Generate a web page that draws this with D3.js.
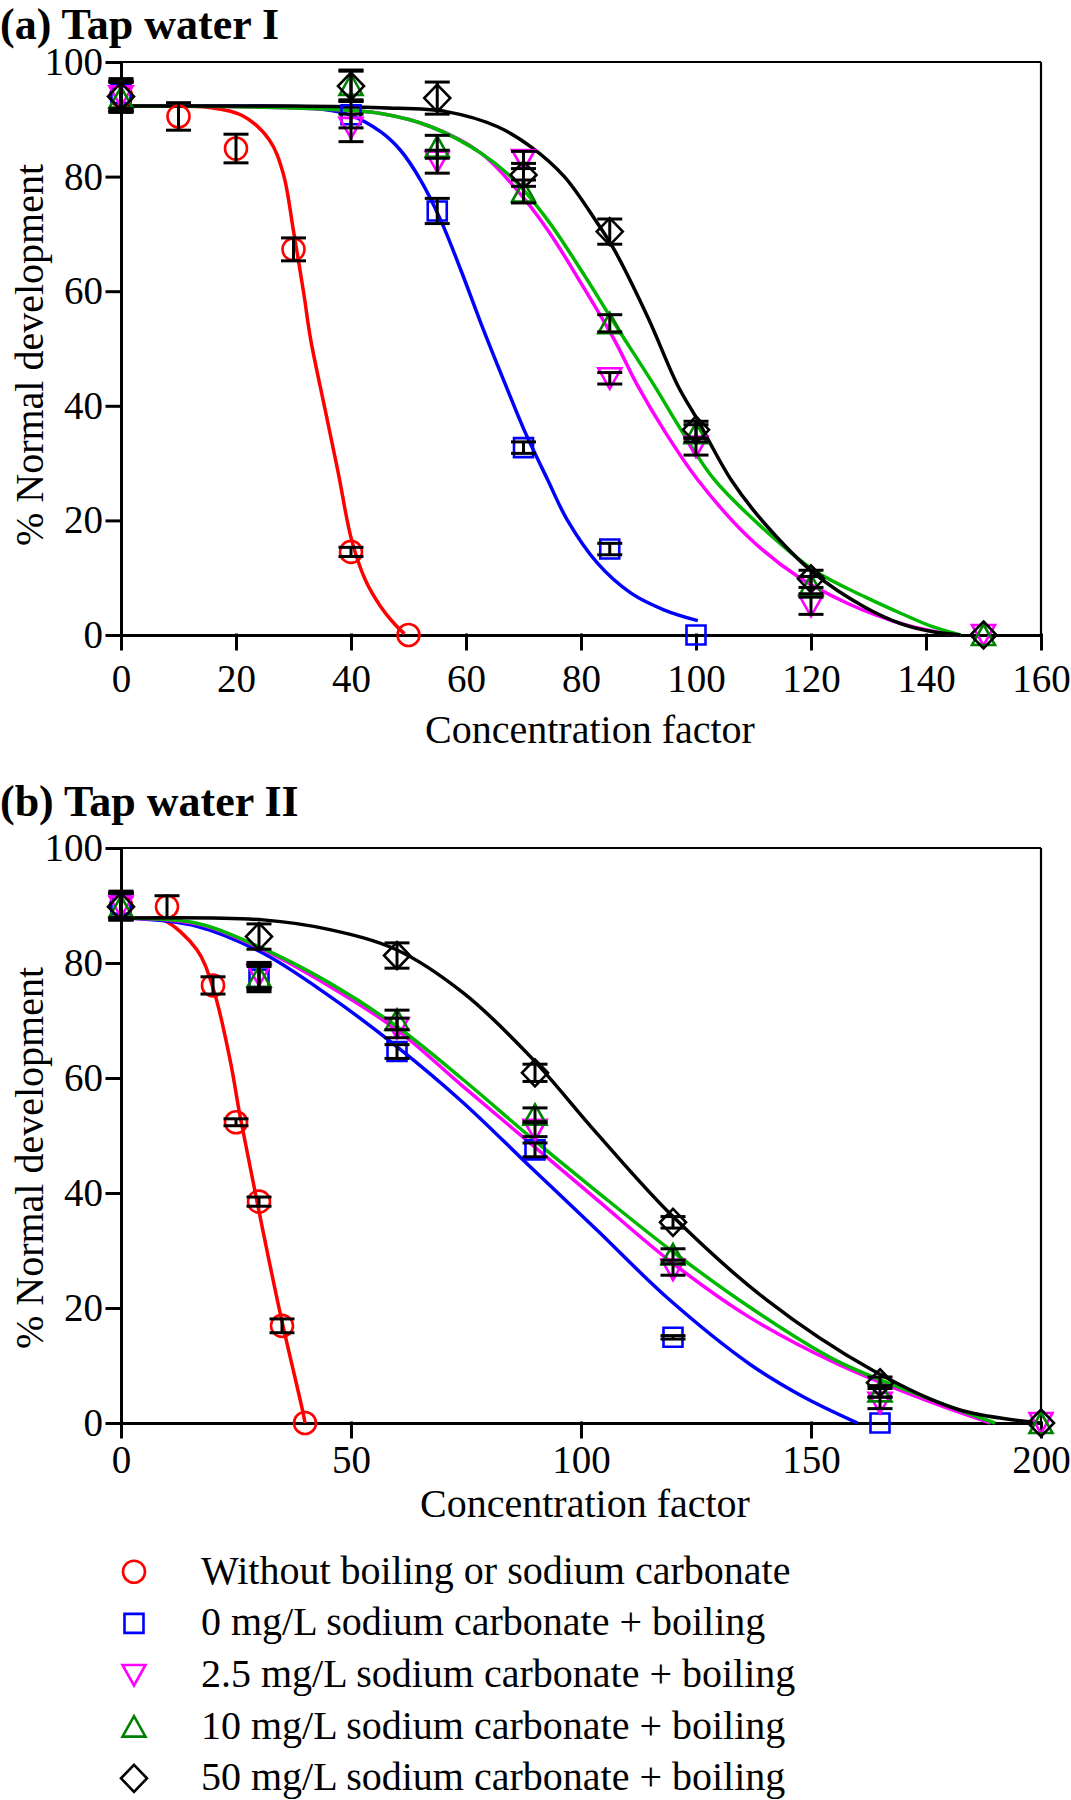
<!DOCTYPE html>
<html>
<head>
    <meta charset="utf-8" />
    <title>Normal development vs concentration factor</title>
    <script src="https://cdn.jsdelivr.net/npm/d3@7"></script>
    <style type="text/css">
        body { margin: 0; background: #fff; }
        svg { display: block; font-family: "Liberation Serif", "Times New Roman", serif; }
        .axis path, .axis line { stroke: #000; stroke-width: 3; stroke-linecap: square; }
        .axis text { font-size: 39px; fill: #000; font-family: "Liberation Serif", "Times New Roman", serif; }
        .frame { stroke: #000; stroke-width: 2.2; }
        .fit { fill: none; stroke-width: 3.5; }
        .err { stroke: #000; stroke-width: 3; }
        .mark { fill: none; stroke-width: 2.6; }
        .title { font-size: 44px; font-weight: bold; }
        .label { font-size: 40px; }
    </style>
</head>
<body>
<script>
    // ---- legend / series names
    const seriesLabels = [
        'Without boiling or sodium carbonate',
        '0 mg/L sodium carbonate + boiling',
        '2.5 mg/L sodium carbonate + boiling',
        '10 mg/L sodium carbonate + boiling',
        '50 mg/L sodium carbonate + boiling'
    ];
    const yTicks = [0, 20, 40, 60, 80, 100];

    // ---- (a) Tap water I : measured points
    const aXTicks = [0, 20, 40, 60, 80, 100, 120, 140, 160];
    const aNoBoilX = [0, 10, 20, 30, 40, 50];
    const aNoBoilY = [94.1, 90.5, 84.9, 67.3, 14.5, 0];
    const aNoBoilErr = [2.6, 2.4, 2.5, 2.0, 0.8, 0];
    const aNa0X = [0, 40, 55, 70, 85, 100];
    const aNa0Y = [94.5, 90.8, 74.0, 32.7, 15.0, 0];
    const aNa0Err = [2.6, 2.3, 2.2, 1.0, 1.0, 0];
    const aBoilX = [0, 40, 55, 70, 85, 100, 120, 150];
    const aNa25Y = [94.0, 88.5, 82.6, 82.9, 44.8, 32.9, 5.1, 0];
    const aNa25Err = [2.6, 2.4, 2.0, 1.5, 1.0, 1.5, 1.5, 0];
    const aNa10Y = [93.8, 96.0, 85.2, 77.4, 54.4, 35.2, 8.7, 0];
    const aNa10Err = [2.6, 2.6, 2.0, 2.0, 1.5, 1.5, 1.5, 0];
    const aNa50Y = [94.0, 95.8, 93.7, 80.3, 70.4, 35.8, 9.8, 0];
    const aNa50Err = [2.6, 2.6, 2.8, 2.0, 2.2, 1.5, 1.5, 0];

    // ---- (a) fitted curves
    const aFitNoBoilX = [0, 10, 15, 21, 25.8, 28.2, 30, 31.8, 33, 35.4, 37.8, 40.1, 42.5, 45.2, 47.5, 49.3];
    const aFitNoBoilY = [92.3, 92.3, 92.1, 90.7, 86.4, 80.6, 70.5, 59.5, 51.5, 39.8, 28.2, 16.6, 9.6, 4.9, 2.0, 0.2];
    const aFitNa0X = [0, 20, 30, 36, 40, 45.2, 48.6, 52.1, 55.6, 59.1, 62.6, 66.9, 70.1, 74.2, 77.6, 82.9, 88.7, 94.4, 100.3];
    const aFitNa0Y = [92.3, 92.3, 92.2, 91.6, 90.7, 87.8, 84.6, 79.4, 72.4, 63.7, 54.4, 43.6, 35.8, 27.1, 20.1, 12.5, 7.3, 4.4, 2.5];
    const aFitNa25X = [0, 20, 35, 45.2, 53.9, 62.6, 68.4, 74.2, 80, 85.8, 89.8, 94.4, 100.3, 109, 117.7, 126.4, 135.6, 141, 145.5];
    const aFitNa25Y = [92.3, 92.2, 91.8, 91.0, 88.7, 84.1, 78.2, 70.7, 61.4, 51.5, 43.6, 35.8, 27.1, 17.2, 10.2, 5.5, 2.0, 0.7, 0];
    const aFitNa10X = [0, 20, 35, 45.2, 53.9, 62.6, 68.4, 74.2, 80, 85.8, 92.7, 97.4, 103.2, 110.7, 120.5, 129.3, 135.6, 141, 146];
    const aFitNa10Y = [92.3, 92.2, 91.8, 91.0, 88.7, 84.1, 79.4, 72.4, 63.7, 54.4, 43.6, 35.8, 27.1, 19.5, 11.3, 6.7, 3.8, 1.5, 0];
    const aFitNa50X = [0, 30, 45.2, 56.8, 65.5, 71.3, 77.1, 82.9, 85.8, 91.6, 96.8, 100.3, 106.1, 111.9, 120.5, 129.3, 135.6, 141, 146];
    const aFitNa50Y = [92.3, 92.3, 92.0, 91.3, 88.7, 85.2, 80.0, 71.8, 67.2, 55.5, 43.6, 37.5, 27.1, 19.5, 10.8, 4.9, 2.0, 0.6, 0];

    // ---- (b) Tap water II : measured points
    const bXTicks = [0, 50, 100, 150, 200];
    const bNoBoilX = [0, 10, 20, 25, 30, 35, 40];
    const bNoBoilY = [90.0, 89.8, 76.1, 52.3, 38.5, 16.9, 0];
    const bNoBoilErr = [2.3, 1.9, 1.5, 0.6, 0.8, 1.2, 0];
    const bNa0X = [0, 30, 60, 90, 120, 165];
    const bNa0Y = [90.2, 77.2, 64.6, 47.5, 14.9, 0];
    const bNa0Err = [2.3, 2.2, 1.2, 1.2, 0.3, 0];
    const bBoilX = [0, 30, 60, 90, 120, 165, 200];
    const bNa25Y = [89.8, 77.9, 68.7, 51.0, 26.7, 3.5, 0];
    const bNa25Err = [2.3, 2.2, 1.7, 1.2, 1.0, 1.0, 0];
    const bNa10Y = [89.8, 77.6, 70.1, 53.6, 29.3, 5.5, 0];
    const bNa10Err = [2.3, 2.2, 1.7, 1.2, 1.0, 1.0, 0];
    const bNa50Y = [89.8, 84.6, 81.3, 60.9, 34.9, 7.0, 0];
    const bNa50Err = [2.3, 2.2, 2.2, 1.5, 1.0, 1.0, 0];

    // ---- (b) fitted curves
    const bFitNoBoilX = [0, 5, 9.2, 16.5, 20.1, 23.7, 25.9, 29.5, 34.6, 39.6, 40];
    const bFitNoBoilY = [87.8, 87.8, 87.5, 82.3, 75.4, 63.2, 53.3, 38.8, 19.1, 1.7, 0];
    const bFitNa0X = [0, 2, 16.5, 30.9, 45.4, 59.9, 74.4, 88.9, 103.4, 119, 136.4, 148, 160.1];
    const bFitNa0Y = [87.8, 87.8, 86.4, 81.7, 74.2, 65.5, 55.7, 44.6, 33.6, 21.6, 10.4, 4.7, 0];
    const bFitNa25X = [0, 2, 16.5, 30.9, 45.4, 59.9, 74.4, 88.9, 103.4, 119.6, 136.4, 155.4, 174.5, 189];
    const bFitNa25Y = [87.8, 87.8, 86.8, 82.3, 75.9, 68.4, 58.5, 48.7, 38.9, 28.0, 18.5, 10.4, 4.1, 0];
    const bFitNa10X = [0, 2, 16.5, 30.9, 45.4, 59.9, 74.4, 88.9, 103.4, 119.6, 136.4, 155.4, 174.5, 190];
    const bFitNa10Y = [87.8, 87.8, 86.9, 82.5, 76.5, 69.0, 59.7, 49.8, 40.3, 30.0, 20.3, 10.9, 4.6, 0];
    const bFitNa50X = [0, 30.9, 45.4, 59.9, 74.4, 88.9, 103.4, 119.6, 140.2, 163.1, 182.2, 200];
    const bFitNa50Y = [87.8, 87.5, 85.8, 82.3, 74.8, 63.8, 50.4, 36.2, 21.5, 9.3, 2.3, 0];

    // ---- styles
    const markColors = ['#ff0000', '#0000ff', '#ff00ff', '#008000', '#000000'];
    const lineColors = ['#ff0000', '#0000ff', '#ff00ff', '#00b800', '#000000'];
    const shapes = ['circle', 'square', 'down', 'up', 'diamond'];

    const W = 1071, H = 1800;
    const svg = d3.select('body').append('svg')
        .attr('width', W)
        .attr('height', H);

    function zip(xs, ys, es) {
        return xs.map(function (x, i) { return { x: x, y: ys[i], e: es ? es[i] : 0 }; });
    }

    function drawShape(g, shape, color, cx, cy) {
        if (shape === 'circle') {
            g.append('circle').attr('class', 'mark').attr('stroke', color)
                .attr('cx', cx).attr('cy', cy).attr('r', 11);
            return;
        }
        var d;
        if (shape === 'square') d = 'M-9.5,-9.5h19v19h-19Z';
        else if (shape === 'down') d = 'M-11.5,-10L11.5,-10L0,10.5Z';
        else if (shape === 'up') d = 'M0,-10.5L11.5,10L-11.5,10Z';
        else d = 'M0,-13.5L13,0L0,13.5L-13,0Z';
        g.append('path').attr('class', 'mark').attr('stroke', color)
            .attr('stroke-linejoin', 'miter')
            .attr('transform', `translate(${cx},${cy})`).attr('d', d);
    }

    function drawPanel(p) {
        var xScale = d3.scaleLinear().domain([0, p.xMax]).range([p.left, p.right]);
        var yScale = d3.scaleLinear().domain([0, 100]).range([p.bottom, p.top]);

        svg.append('text').attr('class', 'title')
            .attr('x', 0).attr('y', p.titleY).text(p.title);

        // frame: top + right
        svg.append('line').attr('class', 'frame')
            .attr('x1', p.left).attr('x2', p.right).attr('y1', p.top).attr('y2', p.top);
        svg.append('line').attr('class', 'frame')
            .attr('x1', p.right).attr('x2', p.right).attr('y1', p.top).attr('y2', p.bottom);

        svg.append('g').attr('class', 'axis')
            .attr('transform', `translate(0,${p.bottom})`)
            .call(d3.axisBottom(xScale).tickValues(p.xTicks).tickSize(14).tickSizeOuter(0))
            .call(function (g) { g.selectAll('text').attr('dy', null).attr('y', p.xLabelOff); });

        svg.append('g').attr('class', 'axis')
            .attr('transform', `translate(${p.left},0)`)
            .call(d3.axisLeft(yScale).tickValues(yTicks).tickSize(14).tickPadding(4).tickSizeOuter(0));

        svg.append('text').attr('class', 'label')
            .attr('x', p.xTitleX).attr('y', p.xTitleY)
            .attr('text-anchor', 'middle').text('Concentration factor');

        svg.append('text').attr('class', 'label')
            .attr('transform', `translate(43,${p.yTitleMid}) rotate(-90)`)
            .attr('text-anchor', 'middle').text('% Normal development');

        var line = d3.line()
            .x(function (d) { return xScale(d.x); })
            .y(function (d) { return yScale(d.y); })
            .curve(d3.curveCatmullRom.alpha(0.5));

        p.fits.forEach(function (f, i) {
            svg.append('path').datum(f)
                .attr('class', 'fit')
                .attr('stroke', lineColors[i])
                .attr('d', line);
        });

        var gm = svg.append('g');
        p.points.forEach(function (s, i) {
            s.forEach(function (d) {
                drawShape(gm, shapes[i], markColors[i], xScale(d.x), yScale(d.y));
            });
        });

        var ge = svg.append('g');
        p.points.forEach(function (s) {
            s.filter(function (d) { return d.e > 0; }).forEach(function (d) {
                var cx = xScale(d.x), y1 = yScale(d.y + d.e), y2 = yScale(d.y - d.e);
                ge.append('line').attr('class', 'err').attr('x1', cx).attr('x2', cx).attr('y1', y1).attr('y2', y2);
                ge.append('line').attr('class', 'err').attr('x1', cx - 12.5).attr('x2', cx + 12.5).attr('y1', y1).attr('y2', y1);
                ge.append('line').attr('class', 'err').attr('x1', cx - 12.5).attr('x2', cx + 12.5).attr('y1', y2).attr('y2', y2);
            });
        });
    }

    drawPanel({
        title: '(a) Tap water I', titleY: 39,
        left: 121, right: 1041, top: 62, bottom: 635,
        xMax: 160, xTicks: aXTicks, xLabelOff: 57,
        xTitleX: 590, xTitleY: 743, yTitleMid: 355,
        fits: [
            zip(aFitNoBoilX, aFitNoBoilY),
            zip(aFitNa0X, aFitNa0Y),
            zip(aFitNa25X, aFitNa25Y),
            zip(aFitNa10X, aFitNa10Y),
            zip(aFitNa50X, aFitNa50Y)
        ],
        points: [
            zip(aNoBoilX, aNoBoilY, aNoBoilErr),
            zip(aNa0X, aNa0Y, aNa0Err),
            zip(aBoilX, aNa25Y, aNa25Err),
            zip(aBoilX, aNa10Y, aNa10Err),
            zip(aBoilX, aNa50Y, aNa50Err)
        ]
    });

    drawPanel({
        title: '(b) Tap water II', titleY: 816,
        left: 121, right: 1041, top: 848, bottom: 1423,
        xMax: 200, xTicks: bXTicks, xLabelOff: 50,
        xTitleX: 585, xTitleY: 1517, yTitleMid: 1158,
        fits: [
            zip(bFitNoBoilX, bFitNoBoilY),
            zip(bFitNa0X, bFitNa0Y),
            zip(bFitNa25X, bFitNa25Y),
            zip(bFitNa10X, bFitNa10Y),
            zip(bFitNa50X, bFitNa50Y)
        ],
        points: [
            zip(bNoBoilX, bNoBoilY, bNoBoilErr),
            zip(bNa0X, bNa0Y, bNa0Err),
            zip(bBoilX, bNa25Y, bNa25Err),
            zip(bBoilX, bNa10Y, bNa10Err),
            zip(bBoilX, bNa50Y, bNa50Err)
        ]
    });

    // legend
    var legend = svg.append('g');
    seriesLabels.forEach(function (label, i) {
        var cy = 1571.7 + i * 51.65;
        drawShape(legend, shapes[i], markColors[i], 134, cy);
        legend.append('text').attr('class', 'label')
            .attr('x', 201).attr('y', cy + 12).text(label);
    });
</script>
</body>
</html>
